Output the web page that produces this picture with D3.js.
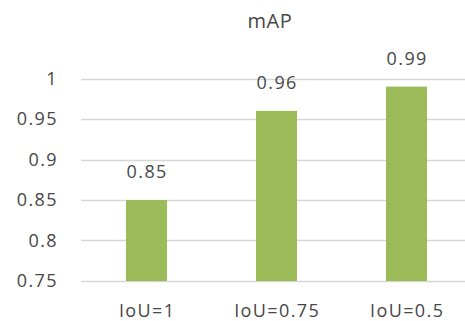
<!DOCTYPE html>
<html>
<head>
<meta charset="utf-8">
<script src="https://cdn.jsdelivr.net/npm/d3@7/dist/d3.min.js"></script>
<style>
  html, body { margin: 0; padding: 0; background: #fff; }
  svg text { font-family: "Open Sans", sans-serif; fill: #474747; }
</style>
</head>
<body>
<svg id="chart" width="465" height="321"></svg>
<script>
const categories = ["IoU=1", "IoU=0.75", "IoU=0.5"];
const mapValues = [0.85, 0.96, 0.99];
const yTicks = [0.75, 0.8, 0.85, 0.9, 0.95, 1];
const yTickLabels = ["0.75", "0.8", "0.85", "0.9", "0.95", "1"];

const svg = d3.select("#chart");
const margin = { left: 81.5, right: 471.5, top: 78.5, bottom: 281 };

const x = d3.scaleBand()
  .domain(categories)
  .range([margin.left, margin.right])
  .paddingInner(0.685)
  .paddingOuter(0.3425);

const y = d3.scaleLinear()
  .domain([0.75, 1])
  .range([margin.bottom, margin.top]);

// horizontal gridlines
svg.append("g")
  .selectAll("line")
  .data(yTicks)
  .join("line")
  .attr("x1", margin.left)
  .attr("x2", 465)
  .attr("y1", d => Math.round(y(d)) + 0.5)
  .attr("y2", d => Math.round(y(d)) + 0.5)
  .attr("stroke", "#d6d6d6")
  .attr("stroke-width", 1.6);

// y tick labels
svg.append("g")
  .selectAll("text")
  .data(yTicks)
  .join("text")
  .attr("x", 58)
  .attr("y", d => y(d))
  .attr("dy", "0.36em")
  .attr("text-anchor", "end")
  .attr("font-size", 18)
  .attr("letter-spacing", 1.4)
  .text((d, i) => yTickLabels[i]);

// bars
svg.append("g")
  .selectAll("rect")
  .data(mapValues)
  .join("rect")
  .attr("x", (d, i) => x(categories[i]))
  .attr("width", x.bandwidth())
  .attr("y", d => y(d))
  .attr("height", d => y(0.75) - y(d))
  .attr("fill", "#9bbb59");

// value labels
svg.append("g")
  .selectAll("text")
  .data(mapValues)
  .join("text")
  .attr("x", (d, i) => x(categories[i]) + x.bandwidth() / 2 + 0.7)
  .attr("y", d => y(d) - 22)
  .attr("text-anchor", "middle")
  .attr("font-size", 18)
  .attr("letter-spacing", 1.4)
  .text(d => d.toFixed(2));

// category labels
svg.append("g")
  .selectAll("text")
  .data(categories)
  .join("text")
  .attr("x", d => x(d) + x.bandwidth() / 2 + 0.7)
  .attr("y", 317)
  .attr("text-anchor", "middle")
  .attr("font-size", 18)
  .attr("letter-spacing", 1.4)
  .text(d => d);

// title
svg.append("text")
  .attr("x", 270)
  .attr("y", 27.5)
  .attr("text-anchor", "middle")
  .attr("font-size", 20)
  .attr("letter-spacing", 0.6)
  .text("mAP");
</script>
</body>
</html>
